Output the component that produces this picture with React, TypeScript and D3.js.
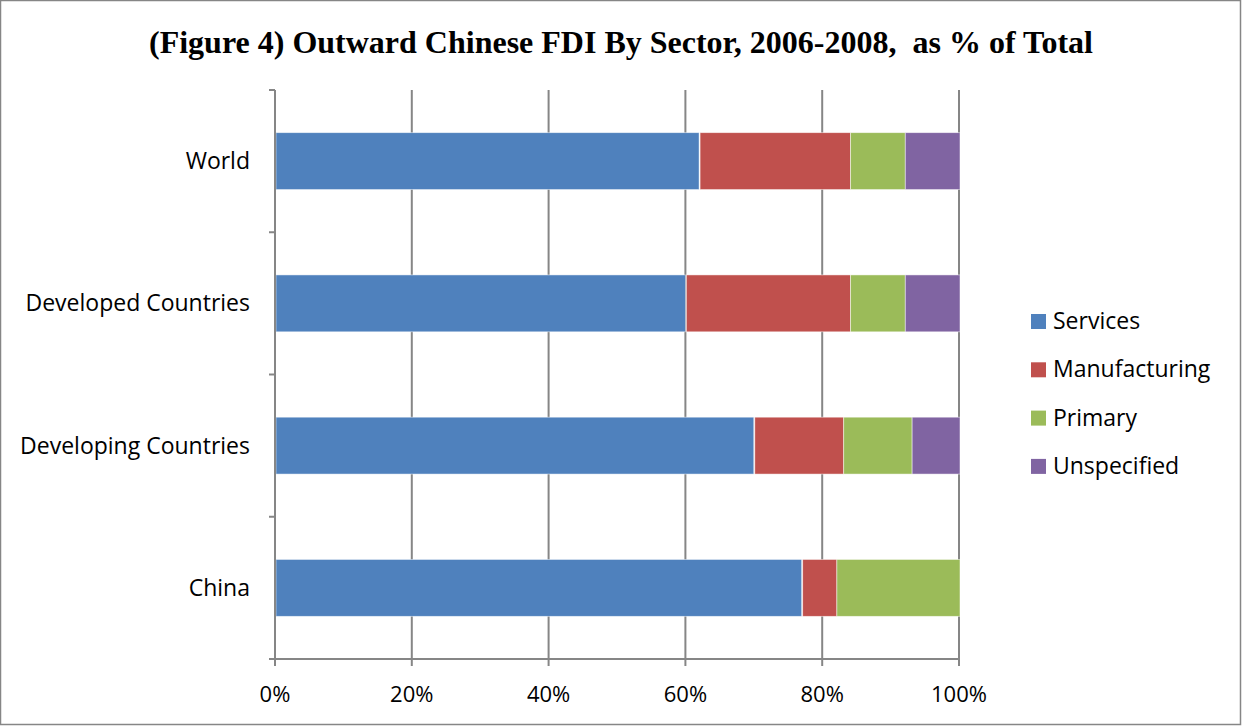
import React from "react";
import * as d3 from "d3";

const categories = ["World", "Developed Countries", "Developing Countries", "China"];
const seriesNames = ["Services", "Manufacturing", "Primary", "Unspecified"];
const services = [62, 60, 70, 77];
const manufacturing = [22, 24, 13, 5];
const primary = [8, 8, 10, 18];
const unspecified = [8, 8, 7, 0];
const xTicks = [0, 20, 40, 60, 80, 100];
const colors = ["#4F81BD", "#C0504D", "#9BBB59", "#8064A2"];

const W = 1242, H = 726;
const plot = { left: 275, right: 959, top: 90, bottom: 659 };
const font = "'Open Sans', 'Liberation Sans', sans-serif";

export default function App() {
  const x = d3.scaleLinear().domain([0, 100]).range([plot.left, plot.right]);
  const y = d3.scaleBand<string>().domain(categories).range([plot.top, plot.bottom]).paddingInner(0.6).paddingOuter(0.3);
  const rows = categories.map((c, i) => ({ cat: c, Services: services[i], Manufacturing: manufacturing[i], Primary: primary[i], Unspecified: unspecified[i] }));
  const stack = d3.stack<any>().keys(seriesNames)(rows);
  const bandEdges = d3.range(categories.length + 1).map(i => plot.top + (i * (plot.bottom - plot.top)) / categories.length);

  return (
    <svg width={W} height={H} style={{ position: "absolute", left: 0, top: 0, background: "#fff" }}>
      <rect x={0.5} y={0.5} width={W - 2} height={H - 2} fill="#fff" stroke="#868686" strokeWidth={1.5} />
      <text x={621} y={53} textAnchor="middle" fontFamily="'Liberation Serif', 'Times New Roman', serif" fontWeight="bold" fontSize={32} style={{ whiteSpace: "pre" }}>
        {"(Figure 4) Outward Chinese FDI By Sector, 2006-2008,  as % of Total"}
      </text>
      {xTicks.map(t => (
        <g key={t}>
          {t > 0 && <line x1={x(t)} x2={x(t)} y1={plot.top} y2={plot.bottom} stroke="#868686" strokeWidth={2} />}
          <line x1={x(t)} x2={x(t)} y1={plot.bottom} y2={plot.bottom + 7} stroke="#868686" strokeWidth={2} />
          <text x={x(t)} y={702} textAnchor="middle" fontFamily={font} fontSize={22}>{t}%</text>
        </g>
      ))}
      {stack.map((s, si) => (
        <g key={s.key} fill={colors[si]}>
          {s.map((d, i) => d[1] - d[0] > 0 ? (
            <rect key={i} x={x(d[0]) + 1} y={y(categories[i])!} width={x(d[1]) - x(d[0]) - (d[0] === 0 ? 1 : 0)} height={y.bandwidth()} stroke="#fff" strokeOpacity={0.6} strokeWidth={0.8} />
          ) : null)}
        </g>
      ))}
      <line x1={plot.left} x2={plot.left} y1={plot.top} y2={plot.bottom} stroke="#868686" strokeWidth={2} />
      <line x1={plot.left - 6} x2={plot.right} y1={plot.bottom} y2={plot.bottom} stroke="#868686" strokeWidth={2} />
      {bandEdges.map((e, i) => (
        <line key={i} x1={plot.left - 6} x2={plot.left} y1={e} y2={e} stroke="#868686" strokeWidth={2} />
      ))}
      {categories.map(c => (
        <text key={c} x={250} y={y(c)! + y.bandwidth() / 2} dy="0.35em" textAnchor="end" fontFamily={font} fontSize={23}>{c}</text>
      ))}
      {seriesNames.map((n, i) => (
        <g key={n} transform={`translate(1031, ${321 + i * 48.3})`}>
          <rect x={0} y={-7} width={15} height={15} fill={colors[i]} />
          <text x={22} y={0} dy="0.35em" fontFamily={font} fontSize={23}>{n}</text>
        </g>
      ))}
    </svg>
  );
}
